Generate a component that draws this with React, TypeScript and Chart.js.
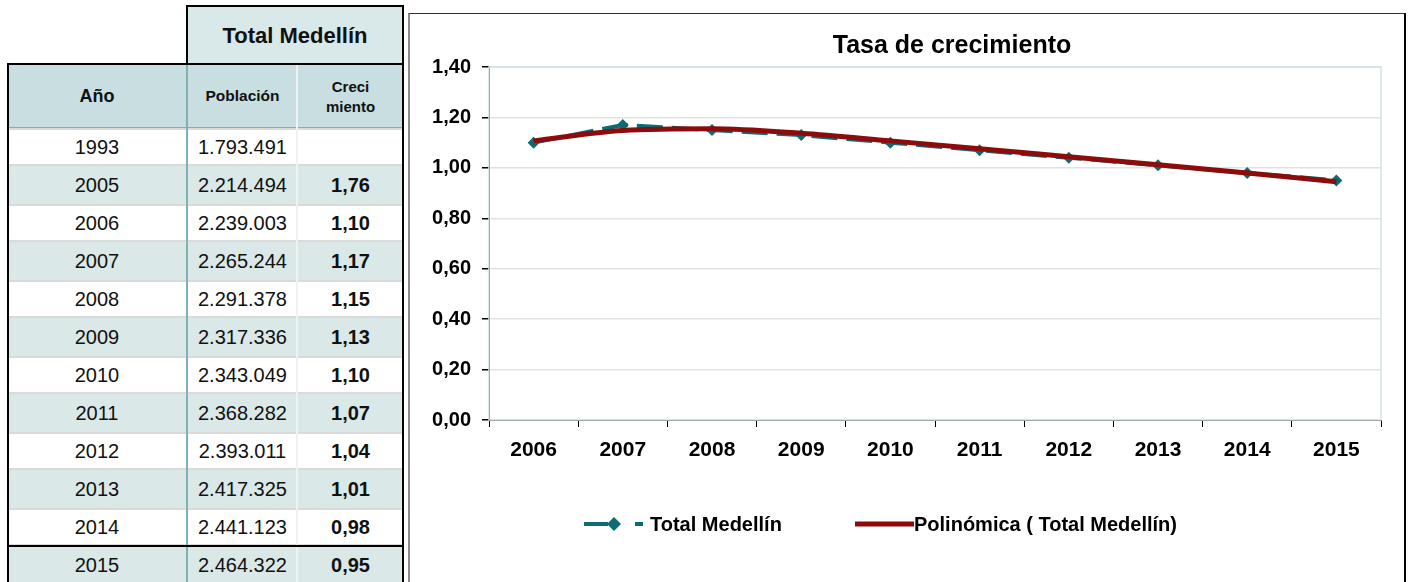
import React, { useEffect, useRef } from 'react';
import { Chart, registerables } from 'chart.js';

Chart.register(...registerables);

// ---------- table data ----------
const tableYears = ['1993', '2005', '2006', '2007', '2008', '2009', '2010', '2011', '2012', '2013', '2014', '2015'];
const tablePopulation = ['1.793.491', '2.214.494', '2.239.003', '2.265.244', '2.291.378', '2.317.336', '2.343.049', '2.368.282', '2.393.011', '2.417.325', '2.441.123', '2.464.322'];
const tableGrowth = ['', '1,76', '1,10', '1,17', '1,15', '1,13', '1,10', '1,07', '1,04', '1,01', '0,98', '0,95'];

// ---------- chart data ----------
const chartYears = ['2006', '2007', '2008', '2009', '2010', '2011', '2012', '2013', '2014', '2015'];
const growthValues = [1.10, 1.17, 1.15, 1.13, 1.10, 1.07, 1.04, 1.01, 0.98, 0.95];
const trendValues = [1.107, 1.148, 1.155, 1.137, 1.107, 1.076, 1.044, 1.012, 0.98, 0.945];
const yMin = 0;
const yMax = 1.4;
const yStep = 0.2;
const chartTitle = 'Tasa de crecimiento';
const seriesLabel = 'Total Medellín';
const trendLabel = 'Polinómica ( Total Medellín)';

const FONT = "'Liberation Sans', Arial, Helvetica, sans-serif";
const TEAL = '#0F6B73';
const RED = '#8C0B0B';

const CANVAS_W = 994;
const CANVAS_H = 568;

const overlayPlugin = {
  id: 'overlay',
  beforeDatasetsDraw(chart: any) {
    const { ctx, chartArea } = chart;
    ctx.save();
    ctx.strokeStyle = '#D3E4E6';
    ctx.lineWidth = 1.5;
    ctx.strokeRect(chartArea.left, chartArea.top, chartArea.right - chartArea.left, chartArea.bottom - chartArea.top);
    ctx.restore();
  },
  afterDraw(chart: any) {
    const { ctx } = chart;
    const ds = chart.data.datasets;
    ctx.save();
    // title
    ctx.fillStyle = '#000';
    ctx.font = `bold 25px ${FONT}`;
    ctx.textAlign = 'center';
    ctx.textBaseline = 'middle';
    ctx.fillText(chartTitle, 542, 32);

    // legend
    const ly = 510;
    ctx.textAlign = 'left';
    ctx.font = `bold 20px ${FONT}`;
    // series 1 sample
    ctx.strokeStyle = ds[1].borderColor;
    ctx.lineWidth = 4;
    ctx.beginPath();
    ctx.moveTo(174, ly);
    ctx.lineTo(198, ly);
    ctx.moveTo(225, ly);
    ctx.lineTo(233, ly);
    ctx.stroke();
    ctx.fillStyle = ds[1].borderColor;
    ctx.beginPath();
    ctx.moveTo(204, ly - 7);
    ctx.lineTo(211, ly);
    ctx.lineTo(204, ly + 7);
    ctx.lineTo(197, ly);
    ctx.closePath();
    ctx.fill();
    ctx.fillStyle = '#000';
    ctx.fillText(ds[1].label, 240, ly + 1);
    // trend sample
    ctx.strokeStyle = ds[0].borderColor;
    ctx.lineWidth = 5;
    ctx.beginPath();
    ctx.moveTo(445, ly);
    ctx.lineTo(504, ly);
    ctx.stroke();
    ctx.fillStyle = '#000';
    ctx.fillText(ds[0].label, 504, ly + 1);
    ctx.restore();
  },
};

function GrowthChart() {
  const ref = useRef<HTMLCanvasElement | null>(null);
  useEffect(() => {
    if (!ref.current) return;
    const chart = new Chart(ref.current, {
      type: 'line',
      data: {
        labels: chartYears,
        datasets: [
          {
            label: trendLabel,
            data: trendValues,
            borderColor: RED,
            backgroundColor: RED,
            borderWidth: 5,
            pointRadius: 0,
            cubicInterpolationMode: 'monotone',
            fill: false,
          },
          {
            label: seriesLabel,
            data: growthValues,
            borderColor: TEAL,
            backgroundColor: TEAL,
            borderWidth: 4,
            borderDash: [26, 9],
            pointStyle: 'rectRot',
            pointRadius: 6,
            pointBorderWidth: 0,
            pointBackgroundColor: TEAL,
            tension: 0,
            fill: false,
          },
        ],
      },
      options: {
        responsive: false,
        animation: false,
        devicePixelRatio: 1,
        layout: { padding: { top: 53, right: 23, bottom: 122, left: 0 } },
        plugins: {
          legend: { display: false },
          title: { display: false },
          tooltip: { enabled: false },
        },
        scales: {
          x: {
            offset: true,
            grid: {
              offset: true,
              drawOnChartArea: false,
              drawTicks: true,
              tickLength: 7,
              tickColor: '#000',
            },
            border: { display: true, color: '#000', width: 1 },
            ticks: {
              color: '#000',
              font: { family: FONT, size: 21, weight: 'bold' },
              padding: 11,
              maxRotation: 0,
            },
            afterFit: (s: any) => {
              s.height = 40;
            },
          },
          y: {
            min: yMin,
            max: yMax,
            ticks: {
              stepSize: yStep,
              color: '#000',
              font: { family: FONT, size: 20, weight: 'bold' },
              padding: 11,
              callback: (v: any) => Number(v).toFixed(2).replace('.', ','),
            },
            grid: {
              color: (c: any) => (c.tick && Math.abs(c.tick.value - yMax) < 1e-6 ? '#D3E4E6' : '#E2E2E2'),
              lineWidth: 1.5,
              tickLength: 7,
              tickColor: '#000',
            },
            border: { display: true, color: '#000', width: 1 },
            afterFit: (s: any) => {
              s.width = 79;
            },
          },
        },
      } as any,
      plugins: [overlayPlugin],
    });
    return () => chart.destroy();
  }, []);
  return <canvas ref={ref} width={CANVAS_W} height={CANVAS_H} style={{ width: CANVAS_W, height: CANVAS_H, display: 'block' }} />;
}

const ROW_TOP = 128;
const ROW_H = 38;
const TEAL_BG = '#DAE8E8';
const HEAD_BG = '#C8DEE0';

function DataTable() {
  const cells: React.ReactNode[] = [];
  tableYears.forEach((y, i) => {
    const top = ROW_TOP + ROW_H * i;
    const shaded = i % 2 === 1;
    const bg = shaded ? TEAL_BG : '#FFFFFF';
    cells.push(
      <div
        key={'row' + i}
        style={{
          position: 'absolute',
          left: 7,
          top,
          width: 397,
          height: ROW_H,
          background: bg,
          boxSizing: 'border-box',
          borderTop: shaded ? 'none' : '2px solid #DADADA',
          borderBottom: shaded ? 'none' : '2px solid #DADADA',
        }}
      />
    );
    const txt = (text: string, left: number, width: number, bold: boolean, k: string) => (
      <div
        key={k}
        style={{
          position: 'absolute',
          left,
          top,
          width,
          height: ROW_H,
          lineHeight: ROW_H + 'px',
          textAlign: 'center',
          fontFamily: FONT,
          fontSize: 20,
          fontWeight: bold ? 'bold' : 'normal',
          color: '#111',
        }}
      >
        {text}
      </div>
    );
    cells.push(txt(y, 7, 180, false, 'y' + i));
    cells.push(txt(tablePopulation[i], 188, 109, false, 'p' + i));
    cells.push(txt(tableGrowth[i], 298, 105, true, 'g' + i));
  });

  return (
    <div style={{ position: 'absolute', left: 0, top: 0, width: 408, height: 582 }}>
      {/* Total Medellín header */}
      <div
        style={{
          position: 'absolute',
          left: 186,
          top: 5,
          width: 218,
          height: 60,
          background: '#D9E8E9',
          boxSizing: 'border-box',
          borderTop: '2px solid #000',
          borderLeft: '2px solid #000',
          borderRight: '2px solid #000',
          fontFamily: FONT,
          fontWeight: 'bold',
          fontSize: 22,
          lineHeight: '58px',
          textAlign: 'center',
          color: '#111',
        }}
      >
        Total Medellín
      </div>
      {/* header row */}
      <div style={{ position: 'absolute', left: 7, top: 64, width: 397, height: 64, background: HEAD_BG }} />
      <div style={{ position: 'absolute', left: 7, top: 64, width: 180, height: 64, lineHeight: '64px', textAlign: 'center', fontFamily: FONT, fontWeight: 'bold', fontSize: 18, color: '#111' }}>Año</div>
      <div style={{ position: 'absolute', left: 188, top: 64, width: 109, height: 64, lineHeight: '64px', textAlign: 'center', fontFamily: FONT, fontWeight: 'bold', fontSize: 15.5, color: '#111' }}>Población</div>
      <div style={{ position: 'absolute', left: 298, top: 77, width: 105, height: 40, lineHeight: '20px', textAlign: 'center', fontFamily: FONT, fontWeight: 'bold', fontSize: 15, color: '#111' }}>
        Creci
        <br />
        miento
      </div>
      <div style={{ position: 'absolute', left: 7, top: 127, width: 397, height: 2, background: '#7DB1B4' }} />
      {cells}
      {/* vertical lines */}
      <div style={{ position: 'absolute', left: 186, top: 64, width: 2, height: 518, background: '#7DB1B4' }} />
      <div style={{ position: 'absolute', left: 296, top: 64, width: 2, height: 518, background: '#EDF2F2' }} />
      {/* black borders */}
      <div style={{ position: 'absolute', left: 7, top: 63, width: 397, height: 2, background: '#000' }} />
      <div style={{ position: 'absolute', left: 7, top: 63, width: 2, height: 519, background: '#000' }} />
      <div style={{ position: 'absolute', left: 402, top: 5, width: 2, height: 577, background: '#000' }} />
      <div style={{ position: 'absolute', left: 7, top: ROW_TOP + ROW_H * 11 - 1, width: 397, height: 2, background: '#000' }} />
    </div>
  );
}

export default function App() {
  return (
    <div style={{ position: 'absolute', left: 0, top: 0, width: 1409, height: 582, overflow: 'hidden', background: '#fff' }}>
      <DataTable />
      <div
        style={{
          position: 'absolute',
          left: 408,
          top: 13,
          width: 998,
          height: 600,
          boxSizing: 'border-box',
          borderTop: '1px solid #333',
          borderLeft: '2px solid #8A8A8A',
          borderRight: '2px solid #000',
        }}
      />
      <div style={{ position: 'absolute', left: 410, top: 14 }}>
        <GrowthChart />
      </div>
    </div>
  );
}
